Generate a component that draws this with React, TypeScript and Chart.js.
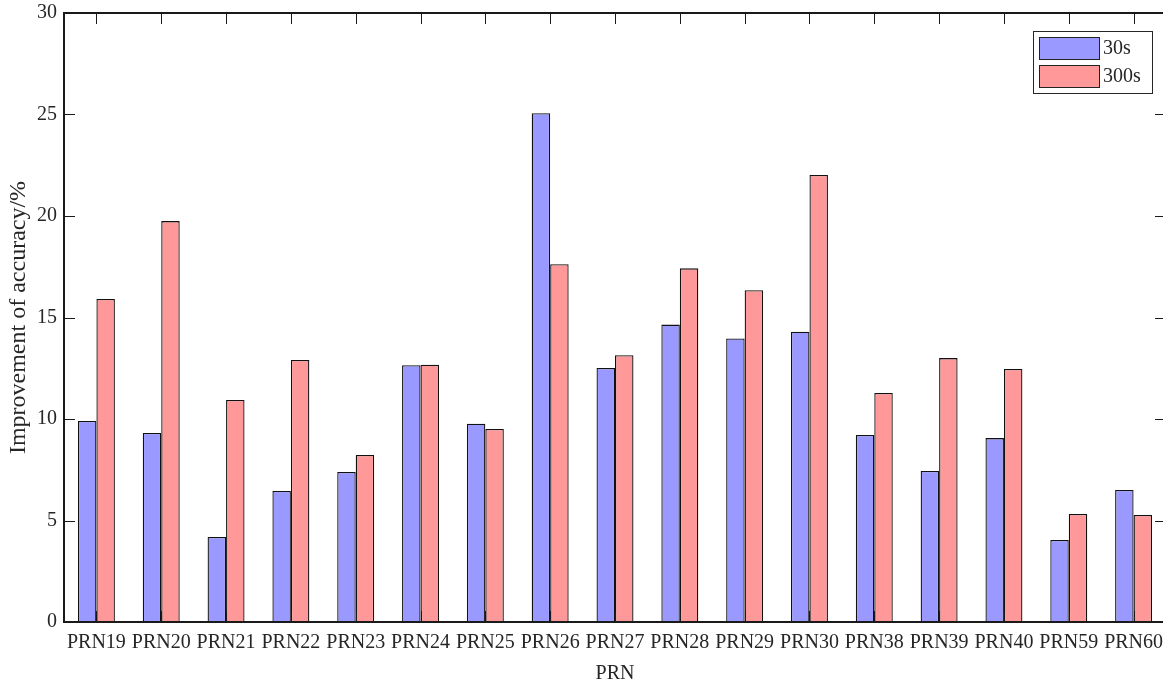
import React, { useEffect, useRef } from "react";
import { Chart, registerables } from "chart.js";

Chart.register(...registerables);

const categories = ["PRN19", "PRN20", "PRN21", "PRN22", "PRN23", "PRN24", "PRN25", "PRN26", "PRN27", "PRN28", "PRN29", "PRN30", "PRN38", "PRN39", "PRN40", "PRN59", "PRN60"];
const series30s = [9.9, 9.31, 4.19, 6.45, 7.39, 12.65, 9.77, 25.06, 12.51, 14.65, 13.97, 14.3, 9.21, 7.44, 9.06, 4.04, 6.5];
const series300s = [15.91, 19.75, 10.94, 12.91, 8.23, 12.67, 9.51, 17.62, 13.14, 17.42, 16.34, 22.02, 11.28, 13.0, 12.46, 5.32, 5.27];
const yTicks = [0, 5, 10, 15, 20, 25, 30];

const FONT = "'Liberation Serif', 'Times New Roman', serif";
const TEXT = "#262626";

const framePlugin = {
  id: "frameTicks",
  afterDatasetsDraw(chart: any) {
    const { ctx, chartArea, scales } = chart;
    const { left, right, top, bottom } = chartArea;
    const tl = 11;
    ctx.save();
    ctx.strokeStyle = "#1a1a1a";
    ctx.lineWidth = 1;
    yTicks.forEach((v) => {
      const y = Math.round(scales.y.getPixelForValue(v)) + 0.5;
      ctx.beginPath();
      ctx.moveTo(left, y);
      ctx.lineTo(left + tl, y);
      ctx.moveTo(right, y);
      ctx.lineTo(right - tl, y);
      ctx.stroke();
    });
    categories.forEach((_, i) => {
      const x = Math.round(scales.x.getPixelForValue(i)) + 0.5;
      ctx.beginPath();
      ctx.moveTo(x, top);
      ctx.lineTo(x, top + tl);
      ctx.moveTo(x, bottom);
      ctx.lineTo(x, bottom - tl);
      ctx.stroke();
    });
    ctx.lineWidth = 2;
    ctx.strokeRect(left, top, right - left, bottom - top);
    ctx.restore();
  },
  afterDraw(chart: any) {
    const { ctx } = chart;
    const bx = 1033, by = 31, bw = 119, bh = 62;
    ctx.save();
    ctx.fillStyle = "#ffffff";
    ctx.fillRect(bx, by, bw, bh);
    ctx.strokeStyle = "#262626";
    ctx.lineWidth = 1;
    ctx.strokeRect(bx + 0.5, by + 0.5, bw, bh);
    chart.data.datasets.forEach((ds: any, i: number) => {
      const py = by + 6 + i * 28;
      ctx.fillStyle = ds.backgroundColor;
      ctx.fillRect(1039, py, 60, 22);
      ctx.strokeStyle = "#222";
      ctx.strokeRect(1039.5, py + 0.5, 60, 22);
      ctx.fillStyle = TEXT;
      ctx.font = `20px ${FONT}`;
      ctx.textBaseline = "middle";
      ctx.textAlign = "left";
      ctx.fillText(ds.label, 1103, py + 12);
    });
    ctx.restore();
  },
};

export default function App() {
  const ref = useRef<HTMLCanvasElement | null>(null);
  useEffect(() => {
    if (!ref.current) return;
    const chart = new Chart(ref.current, {
      type: "bar",
      data: {
        labels: categories,
        datasets: [
          { label: "30s", data: series30s, backgroundColor: "#9999ff", borderColor: "#111111", borderWidth: 1.3, barPercentage: 1, categoryPercentage: 0.57 },
          { label: "300s", data: series300s, backgroundColor: "#ff9999", borderColor: "#111111", borderWidth: 1.3, barPercentage: 1, categoryPercentage: 0.57 },
        ],
      },
      options: {
        animation: false,
        responsive: false,
        layout: { padding: { top: 13, right: 0, left: 0, bottom: 0 } },
        plugins: { legend: { display: false }, tooltip: { enabled: false } },
        scales: {
          x: {
            grid: { display: false, drawTicks: false },
            border: { display: false },
            ticks: { color: TEXT, font: { family: FONT, size: 20 }, padding: 9, maxRotation: 0, autoSkip: false },
            title: { display: true, text: "PRN", color: TEXT, font: { family: FONT, size: 20 }, padding: { top: 0, bottom: -2 } },
            afterFit: (s: any) => { s.height = 62; s.paddingLeft = 0; s.paddingRight = 0; },
          },
          y: {
            min: 0,
            max: 30,
            grid: { display: false, drawTicks: false },
            border: { display: false },
            ticks: { stepSize: 5, color: TEXT, font: { family: FONT, size: 20 }, padding: 7 },
            title: { display: true, text: "Improvement of accuracy/%", color: TEXT, font: { family: FONT, size: 24 }, padding: { top: 4, bottom: 0 } },
            afterFit: (s: any) => { s.width = 64; s.paddingTop = 0; s.paddingBottom = 0; },
          },
        },
      },
      plugins: [framePlugin],
    });
    return () => chart.destroy();
  }, []);
  return (
    <div style={{ position: "fixed", left: 0, top: 0, width: 1163, height: 684, overflow: "hidden", background: "#fff" }}>
      <canvas ref={ref} width={1166} height={684} style={{ width: 1166, height: 684, display: "block" }} />
    </div>
  );
}
